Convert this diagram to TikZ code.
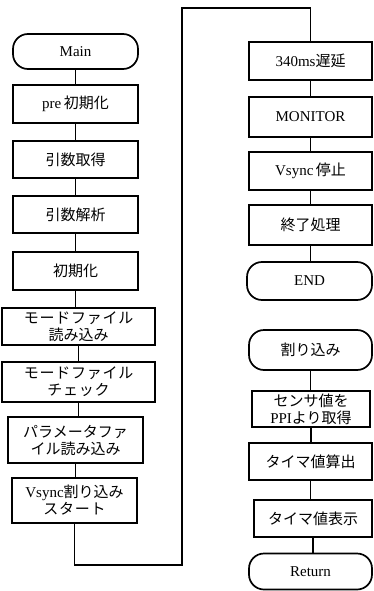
\documentclass[tikz,border=0pt]{standalone}
\usepackage{fontspec}
\setmainfont{Liberation Serif}
\newfontfamily\cjk{Noto Sans CJK JP}
\newfontfamily\cjks[LetterSpace=5]{Noto Sans CJK JP}
\begin{document}
\begin{tikzpicture}[x=1pt,y=-1pt,
  box/.style={draw, line width=1.7pt, inner sep=0pt, align=center,
    font=\fontsize{15}{17}\selectfont},
  term/.style={box, rounded corners=15pt},
  conn/.style={draw, line width=1.7pt}]
\useasboundingbox (0,0) rectangle (374,591);
% left column
\node[term, minimum width=125pt, minimum height=35pt] (main) at (75.5,51.5) {Main};
\node[box, minimum width=125pt, minimum height=38pt] (pre) at (75.5,104) {pre\,{\cjk 初期化}};
\node[box, minimum width=125pt, minimum height=37pt] (hik) at (75.5,159.5) {\cjk 引数取得};
\node[box, minimum width=125pt, minimum height=37pt] (kai) at (75.5,214.5) {\cjk 引数解析};
\node[box, minimum width=125pt, minimum height=38pt] (sho) at (75.5,271) {\cjk 初期化};
\node[box, minimum width=153pt, minimum height=37pt] (mo1) at (78.5,326.5) {{\cjks モードファイル}\\{\cjk 読み込み}};
\node[box, minimum width=153pt, minimum height=40pt] (mo2) at (78.5,382) {{\cjks モードファイル}\\{\cjks チェック}};
\node[box, minimum width=135pt, minimum height=46pt] (par) at (75.5,440) {{\cjk パラメータファ}\\{\cjk イル読み込み}};
\node[box, minimum width=125pt, minimum height=45pt] (vs) at (74.5,500.5) {Vsync{\cjk 割り込み}\\{\cjks スタート}};
% right column
\node[box, minimum width=123pt, minimum height=38pt] (d340) at (310.5,61) {340ms{\cjk 遅延}};
\node[box, minimum width=123pt, minimum height=40pt] (mon) at (310.5,117) {MONITOR};
\node[box, minimum width=123pt, minimum height=38pt] (vst) at (310.5,171) {Vsync\,{\cjk 停止}};
\node[box, minimum width=123pt, minimum height=40pt] (shu) at (310.5,225) {\cjk 終了処理};
\node[term, minimum width=125pt, minimum height=38pt] (endn) at (309.5,281) {END};
\node[term, minimum width=123pt, minimum height=40pt] (wari) at (310.5,350) {\cjk 割り込み};
\node[box, minimum width=118pt, minimum height=36pt] (sen) at (311,409) {{\cjk センサ値を}\\PPI{\cjk より取得}};
\node[box, minimum width=123pt, minimum height=37pt] (tsan) at (310.5,461.5) {\cjk タイマ値算出};
\node[box, minimum width=118pt, minimum height=37pt] (thyo) at (313,518.5) {\cjk タイマ値表示};
\node[term, minimum width=123pt, minimum height=36pt] (ret) at (310.5,571.5) {Return};
% connectors
\foreach \a/\b in {main/pre,pre/hik,hik/kai,kai/sho,sho/mo1,mo1/mo2,mo2/par,par/vs,
  d340/mon,mon/vst,vst/shu,shu/endn,wari/sen,sen/tsan,tsan/thyo,thyo/ret}
  \draw[conn] (\a.south) -- (\a.south |- \b.north);
\coordinate (b1) at (182,565);
\coordinate (t1) at (182,8);
\draw[conn] (vs.south) |- (b1) -- (t1) -| (d340.north);
\end{tikzpicture}
\end{document}
